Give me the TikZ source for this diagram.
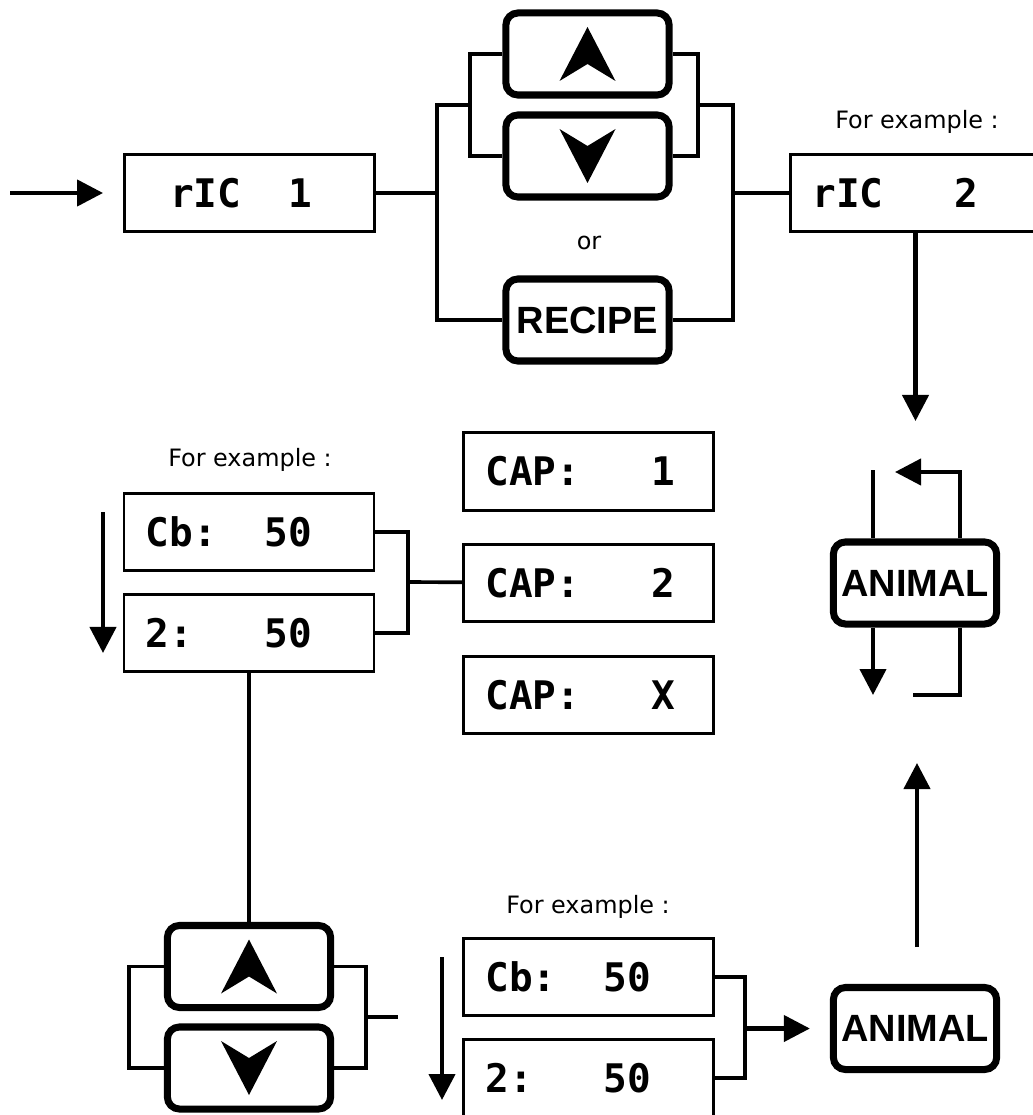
\documentclass[tikz,border=0pt]{standalone}
\usepackage{fontspec}
\setmainfont{DejaVu Sans}
\newfontfamily\lcdfont{DejaVu Sans Mono}
\newfontfamily\btnfont{Liberation Sans}
\usetikzlibrary{arrows.meta}
\newcommand\gap{\hphantom{0}}

\begin{document}
\begin{tikzpicture}[x=0.025cm,y=-0.025cm,
  lcd/.style={draw,line width=2pt,minimum height=1.93cm,text width=5.15cm,inner xsep=0.55cm,align=left,font=\lcdfont\bfseries\fontsize{28}{30}\selectfont},
  btn/.style={draw,line width=5pt,rounded corners=0.3cm,minimum width=4.08cm,minimum height=2.05cm,inner sep=0pt,font=\btnfont\bfseries\fontsize{27}{28}\selectfont},
  lbl/.style={font=\fontsize{17}{19}\selectfont},
  wire/.style={line width=2.6pt},
  arr/.style={line width=3pt,-{Triangle[length=0.65cm,width=0.65cm]}},
  uptri/.pic={\fill (0,-27) -- (28,27) -- (0,10) -- (-28,27) -- cycle;},
  dntri/.pic={\fill (0,27) -- (28,-27) -- (0,-10) -- (-28,-27) -- cycle;}]
  \useasboundingbox (0,0) rectangle (1032,1115);
  \node[lbl] (ex1) at (917,122) {For example :};
  \node[lbl] (ex2) at (250,460) {For example :};
  \node[lbl] (ex3) at (588,907) {For example :};
  \node[lbl] (or) at (589,243) {or};
  \node[lcd] (ric1) at (249.5,193) {\gap rIC\gap\gap 1};
  \node[lcd] (ric2) at (915.5,193) {rIC\gap\gap\gap 2};
  \node[btn] (up1) at (587.5,54) {};
  \node[btn] (down1) at (587.5,156) {};
  \node[btn] (recipe) at (587.5,320) {RECIPE};
  \node[btn] (animal1) at (915,583) {ANIMAL};
  \node[lcd] (cb1) at (249,532) {Cb:\gap\gap50};
  \node[lcd] (two1) at (249,633) {2:\gap\gap\gap50};
  \node[lcd] (cap1) at (588.5,471.5) {CAP:\gap\gap\gap 1};
  \node[lcd] (cap2) at (588.5,583) {CAP:\gap\gap\gap 2};
  \node[lcd] (capx) at (588.5,695) {CAP:\gap\gap\gap X};
  \node[btn] (up2) at (249,966.5) {};
  \node[btn] (down2) at (249,1068) {};
  \node[lcd] (cb2) at (588.5,977) {Cb:\gap\gap50};
  \node[lcd] (two2) at (588.5,1078) {2:\gap\gap\gap50};
  \node[btn] (animal2) at (915,1028.5) {ANIMAL};
  \pic at (up1) {uptri};
  \pic at (down1) {dntri};
  \pic at (up2) {uptri};
  \pic at (down2) {dntri};
  \coordinate (in) at (10,193);
  \coordinate (jl1) at (470,105);
  \coordinate (jl2) at (437,193);
  \coordinate (jr1) at (698,105);
  \coordinate (jr2) at (733,193);
  \coordinate (ttip) at (915.5,421);
  \coordinate (lt) at (873,470);
  \coordinate (rt) at (960,472);
  \coordinate (rtip) at (895,472);
  \coordinate (lb) at (873,695);
  \coordinate (rb) at (960,695);
  \coordinate (rbend) at (913,695);
  \coordinate (jc1) at (408,582);
  \coordinate (d1a) at (103,512);
  \coordinate (d1b) at (103,653);
  \coordinate (bl) at (129,1017);
  \coordinate (br) at (366,1017);
  \coordinate (bstub) at (398,1017);
  \coordinate (d2a) at (442,957);
  \coordinate (d2b) at (442,1100);
  \coordinate (jc2) at (745,1028.5);
  \coordinate (ua) at (917,947);
  \coordinate (ub) at (917,763);
  \draw[arr,shorten >=0.5cm] (in) -- (ric1);
  \draw[wire] (ric1) -- (jl2);
  \draw[wire] (up1.west) -| (jl1) |- (down1.west);
  \draw[wire] (jl1) -| (jl2) |- (recipe.west);
  \draw[wire] (up1.east) -| (jr1) |- (down1.east);
  \draw[wire] (jr1) -| (jr2) |- (recipe.east);
  \draw[wire] (jr2) -- (ric2);
  \draw[arr] (ric2) -- (ttip);
  \draw[wire] (lt) -- (lt |- animal1.north);
  \draw[arr] (rt |- animal1.north) |- (rtip);
  \draw[arr] (lb |- animal1.south) -- (lb);
  \draw[wire] (rb |- animal1.south) |- (rbend);
  \draw[wire] (cb1.east) -| (jc1) |- (two1.east);
  \draw[wire] (jc1) -- (cap2);
  \draw[arr] (d1a) -- (d1b);
  \draw[wire] (two1) -- (up2);
  \draw[wire] (up2.west) -| (bl) |- (down2.west);
  \draw[wire] (up2.east) -| (br) |- (down2.east);
  \draw[wire] (br) -- (bstub);
  \draw[arr] (d2a) -- (d2b);
  \draw[wire] (cb2.east) -| (jc2) |- (two2.east);
  \draw[arr,shorten >=0.5cm] (jc2) -- (animal2);
  \draw[arr] (ua) -- (ub);
\end{tikzpicture}
\end{document}
